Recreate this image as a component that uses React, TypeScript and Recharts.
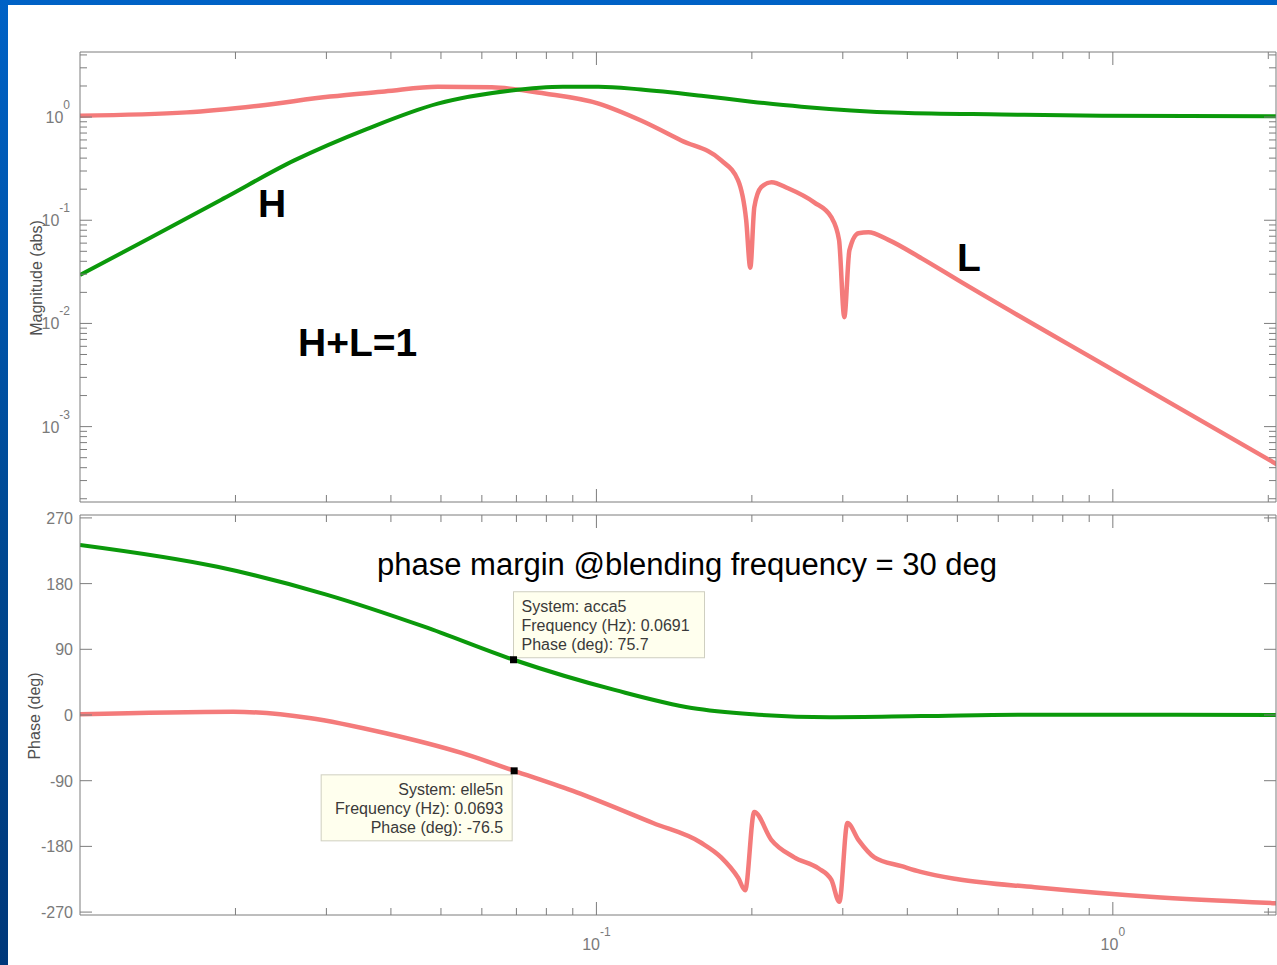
import React from "react";
import { LineChart, Line, XAxis, YAxis, ReferenceDot } from "recharts";

const FONT = "'Liberation Sans', Arial, sans-serif";
const PINK = "#f47b7b";
const GREEN = "#0b990b";
const AXIS = "#7d7d7d";
const TICK_TXT = "#7a7a7a";
const TITLE_TXT = "#505050";

// magnitude of L (pink)
const L_MAG_FREQ = [0.01, 0.0161, 0.0222, 0.0305, 0.0389, 0.0493, 0.0627, 0.0794, 0.101, 0.122, 0.146, 0.1745, 0.188, 0.195, 0.1986, 0.2022, 0.2085, 0.2183, 0.235, 0.264, 0.285, 0.295, 0.302, 0.309, 0.3216, 0.3363, 0.3676, 0.4264, 0.509, 1.0, 2.08];
const L_MAG = [1.03, 1.11, 1.29, 1.58, 1.77, 1.97, 1.94, 1.69, 1.35, 0.925, 0.593, 0.38, 0.245, 0.1, 0.0347, 0.134, 0.209, 0.234, 0.204, 0.149, 0.107, 0.0646, 0.0115, 0.0513, 0.0748, 0.0766, 0.0646, 0.0427, 0.0251, 0.00355, 0.00043];

// magnitude of H (green)
const H_MAG_FREQ = [0.01, 0.01374, 0.01894, 0.026, 0.0359, 0.0493, 0.0679, 0.0861, 0.101, 0.122, 0.1596, 0.1995, 0.2494, 0.3116, 0.39, 0.609, 0.952, 2.08];
const H_MAG = [0.0294, 0.0685, 0.162, 0.38, 0.765, 1.35, 1.8, 1.97, 1.97, 1.85, 1.61, 1.41, 1.26, 1.16, 1.1, 1.06, 1.03, 1.02];

// phase of L (pink)
const L_PH_FREQ = [0.01, 0.0198, 0.0278, 0.0391, 0.0548, 0.0693, 0.0916, 0.1287, 0.1595, 0.1744, 0.1881, 0.1941, 0.2021, 0.2181, 0.2416, 0.269, 0.2851, 0.2954, 0.3062, 0.3216, 0.3454, 0.3898, 0.4246, 0.501, 0.706, 1.18, 2.08];
const L_PH = [1, 4.5, -4, -25, -52, -76.5, -106, -148, -175, -195, -223, -240, -133, -171, -195, -210, -226, -256, -148, -171, -195, -207, -215, -225, -236, -249, -258];

// phase of H (green)
const H_PH_FREQ = [0.01, 0.01845, 0.03, 0.0464, 0.0691, 0.1089, 0.153, 0.201, 0.283, 0.426, 0.709, 2.08];
const H_PH = [233, 203, 165, 121, 75.7, 34, 9.6, 1, -3, -1.5, 0.5, 0];

// data tips
const TIP_SYSTEM = ["acca5", "elle5n"];
const TIP_FREQ = [0.0691, 0.0693];
const TIP_PHASE = [75.7, -76.5];

// axes
const X_DOMAIN = [0.01, 2.07];
const X_TICKS = [0.02, 0.03, 0.04, 0.05, 0.06, 0.07, 0.08, 0.09, 0.1, 0.2, 0.3, 0.4, 0.5, 0.6, 0.7, 0.8, 0.9, 1, 2];
const MAG_DOMAIN = [0.000186, 4.27];
const MAG_DECADES = [0.0001, 0.001, 0.01, 0.1, 1];
const MAG_MULT = [1, 2, 3, 4, 5, 6, 7, 8, 9];
const PH_DOMAIN = [-274, 274];
const PH_TICKS = [-270, -180, -90, 0, 90, 180, 270];

const zip = (xs: number[], ys: number[]) => xs.map((f, i) => ({ f, v: ys[i] }));
const lMagData = zip(L_MAG_FREQ, L_MAG);
const hMagData = zip(H_MAG_FREQ, H_MAG);
const lPhData = zip(L_PH_FREQ, L_PH);
const hPhData = zip(H_PH_FREQ, H_PH);

const MAG_TICKS = MAG_DECADES.flatMap((d) => MAG_MULT.map((m) => +(d * m).toPrecision(3))).filter(
  (v) => v >= MAG_DOMAIN[0] && v <= MAG_DOMAIN[1]
);

const isMajor = (v: number) => Math.abs(Math.log10(v) - Math.round(Math.log10(v))) < 1e-6;

const xTick = (side: "top" | "bottom", labels: boolean) => (p: any) => {
  const { x, y, payload } = p;
  const v = payload.value;
  const major = isMajor(v);
  const len = major ? 13 : 7;
  const dir = side === "bottom" ? -1 : 1;
  return (
    <g>
      <line x1={x} y1={y} x2={x} y2={y + dir * len} stroke={AXIS} />
      {labels && major && (
        <text x={x} y={y + 35} textAnchor="middle" fill={TICK_TXT} fontSize={16} fontFamily={FONT}>
          10
          <tspan dy={-14} fontSize={12}>
            {Math.round(Math.log10(v))}
          </tspan>
        </text>
      )}
    </g>
  );
};

const magTick = (side: "left" | "right") => (p: any) => {
  const { x, y, payload } = p;
  const v = payload.value;
  const major = isMajor(v);
  const len = major ? 12 : 7;
  const dir = side === "left" ? 1 : -1;
  return (
    <g>
      <line x1={x} y1={y} x2={x + dir * len} y2={y} stroke={AXIS} />
      {side === "left" && major && (
        <text x={x - 10} y={y + 6} textAnchor="end" fill={TICK_TXT} fontSize={16} fontFamily={FONT}>
          10
          <tspan dy={-14} fontSize={12}>
            {Math.round(Math.log10(v))}
          </tspan>
        </text>
      )}
    </g>
  );
};

const phTick = (side: "left" | "right") => (p: any) => {
  const { x, y, payload } = p;
  const dir = side === "left" ? 1 : -1;
  return (
    <g>
      <line x1={x} y1={y} x2={x + dir * 12} y2={y} stroke={AXIS} />
      {side === "left" && (
        <text x={x - 7} y={y + 6} textAnchor="end" fill={TICK_TXT} fontSize={16} fontFamily={FONT}>
          {payload.value}
        </text>
      )}
    </g>
  );
};

function DataTip(props: any) {
  const { cx, cy, idx, above } = props;
  const lines = [`System: ${TIP_SYSTEM[idx]}`, `Frequency (Hz): ${TIP_FREQ[idx]}`, `Phase (deg): ${TIP_PHASE[idx]}`];
  const w = 191;
  const h = 66;
  const bx = above ? cx : cx - 193;
  const by = above ? cy - 68 : cy + 4;
  return (
    <g>
      <rect x={bx} y={by} width={w} height={h} fill="#ffffee" stroke="#cfcfc0" />
      {lines.map((t, i) => (
        <text
          key={i}
          x={above ? bx + 8 : bx + w - 9}
          y={by + 20 + i * 19}
          textAnchor={above ? "start" : "end"}
          fill="#3a3a3a"
          fontSize={16}
          fontFamily={FONT}
        >
          {t}
        </text>
      ))}
      <rect x={cx - 3.5} y={cy - 3.5} width={7} height={7} fill="#000" />
    </g>
  );
}

export default function App() {
  return (
    <div
      style={{
        position: "absolute",
        left: 0,
        top: 0,
        width: 1277,
        height: 965,
        overflow: "hidden",
        background: "linear-gradient(180deg, #0062c6 0%, #00478f 60%, #00387a 100%)",
      }}
    >
      <div style={{ position: "absolute", left: 8, top: 5, right: 0, bottom: 0, background: "#fff" }} />

      {/* magnitude */}
      <div style={{ position: "absolute", left: 0, top: 0 }}>
        <LineChart width={1277} height={522} margin={{ top: 51, right: 0, bottom: 19, left: 0 }}>
          <XAxis xAxisId="b" dataKey="f" type="number" scale="log" domain={X_DOMAIN} allowDataOverflow ticks={X_TICKS} interval={0} height={1} tickSize={0} tickMargin={0} tickLine={false} stroke={AXIS} tick={xTick("bottom", false)} />
          <XAxis xAxisId="t" orientation="top" dataKey="f" type="number" scale="log" domain={X_DOMAIN} allowDataOverflow ticks={X_TICKS} interval={0} height={1} tickSize={0} tickMargin={0} tickLine={false} stroke={AXIS} tick={xTick("top", false)} />
          <YAxis yAxisId="l" type="number" scale="log" domain={MAG_DOMAIN} allowDataOverflow ticks={MAG_TICKS} interval={0} width={80} tickSize={0} tickMargin={0} tickLine={false} stroke={AXIS} tick={magTick("left")} />
          <YAxis yAxisId="r" orientation="right" type="number" scale="log" domain={MAG_DOMAIN} allowDataOverflow ticks={MAG_TICKS} interval={0} width={1} tickSize={0} tickMargin={0} tickLine={false} stroke={AXIS} tick={magTick("right")} />
          <Line xAxisId="b" yAxisId="l" data={lMagData} dataKey="v" type="monotone" stroke={PINK} strokeWidth={4.5} dot={false} isAnimationActive={false} />
          <Line xAxisId="b" yAxisId="l" data={hMagData} dataKey="v" type="monotone" stroke={GREEN} strokeWidth={4} dot={false} isAnimationActive={false} />
        </LineChart>
      </div>

      {/* phase */}
      <div style={{ position: "absolute", left: 0, top: 500 }}>
        <LineChart width={1277} height={465} margin={{ top: 14, right: 0, bottom: 0, left: 0 }}>
          <XAxis xAxisId="b" dataKey="f" type="number" scale="log" domain={X_DOMAIN} allowDataOverflow ticks={X_TICKS} interval={0} height={50} tickSize={0} tickMargin={0} tickLine={false} stroke={AXIS} tick={xTick("bottom", true)} />
          <XAxis xAxisId="t" orientation="top" dataKey="f" type="number" scale="log" domain={X_DOMAIN} allowDataOverflow ticks={X_TICKS} interval={0} height={1} tickSize={0} tickMargin={0} tickLine={false} stroke={AXIS} tick={xTick("top", false)} />
          <YAxis yAxisId="l" type="number" domain={PH_DOMAIN} allowDataOverflow ticks={PH_TICKS} interval={0} width={80} tickSize={0} tickMargin={0} tickLine={false} stroke={AXIS} tick={phTick("left")} />
          <YAxis yAxisId="r" orientation="right" type="number" domain={PH_DOMAIN} allowDataOverflow ticks={PH_TICKS} interval={0} width={1} tickSize={0} tickMargin={0} tickLine={false} stroke={AXIS} tick={phTick("right")} />
          <Line xAxisId="b" yAxisId="l" data={hPhData} dataKey="v" type="monotone" stroke={GREEN} strokeWidth={4} dot={false} isAnimationActive={false} />
          <Line xAxisId="b" yAxisId="l" data={lPhData} dataKey="v" type="monotone" stroke={PINK} strokeWidth={4.5} dot={false} isAnimationActive={false} />
          <ReferenceDot xAxisId="b" yAxisId="l" x={TIP_FREQ[0]} y={TIP_PHASE[0]} ifOverflow="visible" shape={(p: any) => <DataTip {...p} idx={0} above />} />
          <ReferenceDot xAxisId="b" yAxisId="l" x={TIP_FREQ[1]} y={TIP_PHASE[1]} ifOverflow="visible" shape={(p: any) => <DataTip {...p} idx={1} above={false} />} />
        </LineChart>
      </div>

      {/* annotations */}
      <svg width={1277} height={965} style={{ position: "absolute", left: 0, top: 0, pointerEvents: "none" }}>
        <text x={42} y={278} transform="rotate(-90 42 278)" textAnchor="middle" fill={TITLE_TXT} fontSize={16} fontFamily={FONT}>
          Magnitude (abs)
        </text>
        <text x={40} y={716} transform="rotate(-90 40 716)" textAnchor="middle" fill={TITLE_TXT} fontSize={16} fontFamily={FONT}>
          Phase (deg)
        </text>
        <text x={258} y={217} fontSize={39} fontWeight="bold" fontFamily={FONT} fill="#000">H</text>
        <text x={957} y={271} fontSize={39} fontWeight="bold" fontFamily={FONT} fill="#000">L</text>
        <text x={298} y={356} fontSize={39} fontWeight="bold" fontFamily={FONT} fill="#000">H+L=1</text>
        <text x={377} y={575} fontSize={31} fontFamily={FONT} fill="#000">
          phase margin @blending frequency = 30 deg
        </text>
      </svg>
    </div>
  );
}
